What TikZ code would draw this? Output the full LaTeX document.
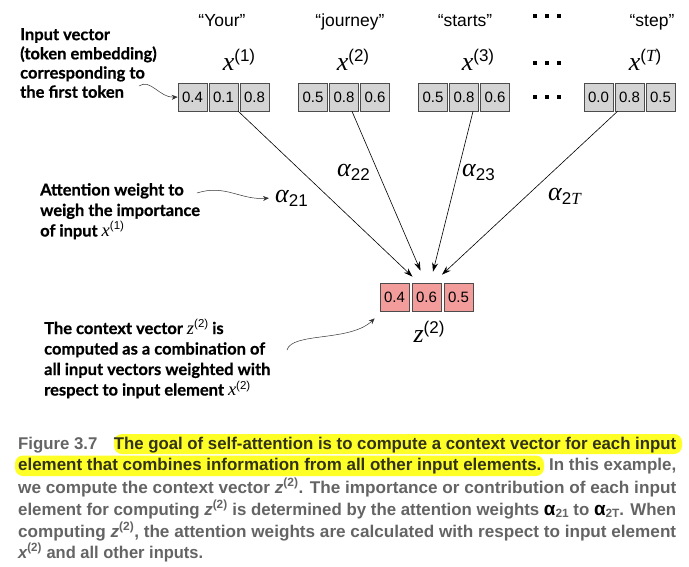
\documentclass[tikz,border=0pt]{standalone}
\usepackage{fontspec}
\setmainfont{Liberation Sans}
\newfontfamily\notefont{Lato}[BoldFeatures={FakeBold=0.6}]
\newfontfamily\serifmath{Liberation Serif}
\newfontfamily\capfont{Liberation Sans}[FakeStretch=0.97]
\usetikzlibrary{arrows.meta}

\definecolor{cellgray}{RGB}{212,212,212}
\definecolor{cellpink}{RGB}{243,156,156}
\definecolor{capgray}{RGB}{100,100,100}
\definecolor{capdark}{RGB}{50,50,25}
\definecolor{hlyellow}{RGB}{255,255,40}

% symbols with a sans index: x^(1), alpha_21
\newcommand{\bigsup}[2]{{\serifmath\itshape\fontsize{26}{26}\selectfont #1}\raisebox{9pt}{\fontsize{17}{17}\selectfont(#2)}}
\newcommand{\bigsub}[2]{{\serifmath\itshape\fontsize{26}{26}\selectfont #1}\raisebox{-4.5pt}{\fontsize{17}{17}\selectfont #2}}
\newcommand{\notesup}[2]{{\serifmath\itshape\mdseries\fontsize{18.5}{18.5}\selectfont #1}\raisebox{6.5pt}{\rmfamily\mdseries\fontsize{11.5}{11.5}\selectfont(#2)}}
\newcommand{\capsym}[2]{{\itshape #1}\textsuperscript{(#2)}}
\newcommand{\capalpha}[1]{{\color{black}\fontsize{19}{19}\selectfont α}\raisebox{-2.5pt}{\fontsize{12}{12}\selectfont #1}}
\newcommand{\capline}[1]{\resizebox{658pt}{\height}{#1}}

\begin{document}
\begin{tikzpicture}[x=1pt,y=-1pt,
	cell/.style={draw=black!70,line width=0.7pt,fill=cellgray,minimum width=29pt,minimum height=28pt,inner sep=0pt,font=\fontsize{15}{15}\selectfont},
	zcell/.style={cell,fill=cellpink},
	wgt/.style={-{Stealth[length=9pt,width=6pt]},line width=0.6pt},
	note/.style={-{Stealth[length=6pt,width=5pt]},line width=0.5pt,black!80},
	notetext/.style={font=\notefont\bfseries\fontsize{16.5}{19.2}\selectfont,align=left,inner sep=0pt,anchor=north west},
	word/.style={anchor=base,inner sep=0pt,font=\fontsize{17.5}{17.5}\selectfont},
	sym/.style={anchor=base,inner sep=0pt},
	sqdot/.style={fill,minimum size=4.5pt,inner sep=0pt},
	capnode/.style={anchor=base west,inner sep=0pt,text=capgray,font=\capfont\bfseries\fontsize{17}{17}\selectfont}]
	\useasboundingbox (0,0) rectangle (689,566);
	
	%tokens
	\node[word] (w1) at (222,26) {“Your”};
	\node[word] (w2) at (350,26) {“journey”};
	\node[word] (w3) at (465,26) {“starts”};
	\node[word] (wT) at (652,26) {“step”};
	\node[sym] (l1) at (239,70) {\bigsup{x}{1}};
	\node[sym] (l2) at (353,70) {\bigsup{x}{2}};
	\node[sym] (l3) at (478,70) {\bigsup{x}{3}};
	\node[sym] (lT) at (645,70) {\bigsup{x}{{\serifmath\itshape T}}};
	
	%input vectors
	\foreach \g/\cx/\va/\vb/\vc in {1/223.5/0.4/0.1/0.8, 2/344/0.5/0.8/0.6, 3/464/0.5/0.8/0.6, T/629.5/0.0/0.8/0.5}{
		\node[cell] (x\g a) at (\cx-31,97) {\va};
		\node[cell] (x\g b) at (\cx,97) {\vb};
		\node[cell] (x\g c) at (\cx+31,97) {\vc};
	}
	\foreach \dy in {16,63,97}{
		\foreach \dx in {535,547,559}{
			\node[sqdot] (dot-\dx-\dy) at (\dx,\dy) {};
		}
	}
	
	%context vector
	\node[zcell] (za) at (394.5,297) {0.4};
	\node[zcell] (zb) at (426.5,297) {0.6};
	\node[zcell] (zc) at (458.5,297) {0.5};
	\node[sym] (lz) at (429,342) {\bigsup{z}{2}};
	
	%weights
	\draw[wgt] (x1b.south east) -- ([xshift=-14pt,yshift=6pt]zb.north);
	\draw[wgt] ([xshift=8pt]x2b.south) -- ([xshift=-6pt,yshift=12pt]zb.north);
	\draw[wgt] ([xshift=9pt]x3b.south) -- ([xshift=6.5pt,yshift=11pt]zb.north);
	\draw[wgt] ([xshift=-12pt]xTb.south) -- ([xshift=15.5pt,yshift=8pt]zb.north);
	\node[sym,anchor=base west] (a21) at (275,202) {\bigsub{α}{21}};
	\node[sym,anchor=base west] (a22) at (337,176) {\bigsub{α}{22}};
	\node[sym,anchor=base west] (a23) at (462,176) {\bigsub{α}{23}};
	\node[sym,anchor=base west] (a2T) at (548,200) {\bigsub{α}{2{\serifmath\itshape T}}};
	
	%notes
	\node[notetext] (n1) at (20,28) {Input vector\\(token embedding)\\corresponding to\\the first token};
	\node[notetext,font=\notefont\bfseries\fontsize{16.5}{20.5}\selectfont] (n2) at (40,183) {Attention weight to\\weigh the importance\\of input \notesup{x}{1}};
	\node[notetext,font=\notefont\bfseries\fontsize{16.5}{20.5}\selectfont] (n3) at (44,319) {The context vector \notesup{z}{2} is\\computed as a combination of\\all input vectors weighted with\\respect to input element \notesup{x}{2}};
	\coordinate (n1tail) at (139,86);
	\coordinate (n2tail) at (197,193);
	\coordinate (n3tail) at (287,350);
	\draw[note] (n1tail) .. controls (150,78) and (160,98) .. (x1a.west);
	\draw[note] (n2tail) .. controls (225,184) and (240,200) .. ([xshift=-6pt]a21.west);
	\draw[note] (n3tail) .. controls (292,332) and (350,342) .. ([shift={(-5pt,-7pt)}]za.south west);
	
	%caption
	\fill[hlyellow,rounded corners=8pt] (114,434) rectangle (682,454);
	\fill[hlyellow,rounded corners=8pt] (15,455.5) rectangle (544,476);
	\node[capnode] (cap1) at (18,449) {\capline{Figure 3.7\hspace*{16pt}{\color{capdark}The goal of self-attention is to compute a context vector for each input}}};
	\node[capnode] (cap2) at (18,470.5) {\capline{{\color{capdark}element that combines information from all other input elements.}\hspace*{3pt} In this example,}};
	\node[capnode] (cap3) at (18,493) {\capline{we compute the context vector \capsym{z}{2}. The importance or contribution of each input}};
	\node[capnode] (cap4) at (18,515) {\capline{element for computing \capsym{z}{2} is determined by the attention weights \capalpha{21} to \capalpha{2T}. When}};
	\node[capnode] (cap5) at (18,537) {\capline{computing \capsym{z}{2}, the attention weights are calculated with respect to input element}};
	\node[capnode] (cap6) at (18,558) {\capsym{x}{2} and all other inputs.};
\end{tikzpicture}
\end{document}
